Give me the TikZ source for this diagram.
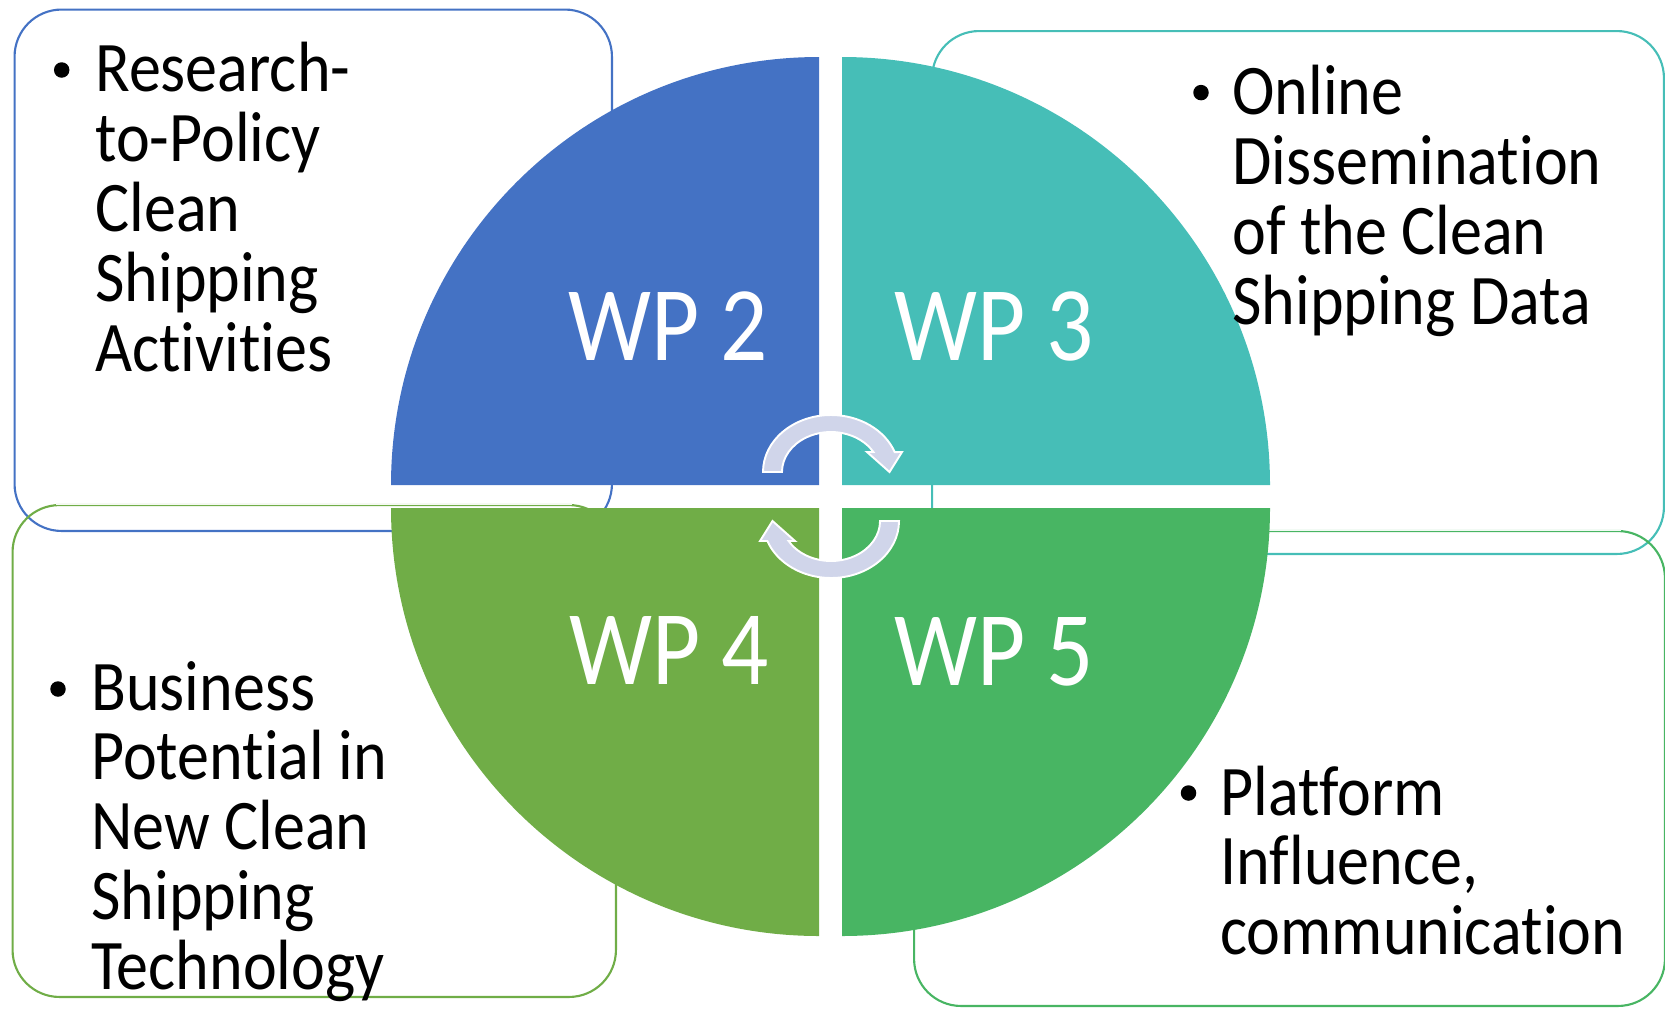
\documentclass[tikz,border=0pt]{standalone}
\usepackage{fontspec}
\newfontfamily\bodyfont[FakeStretch=0.9,Ligatures={NoCommon,NoContextual}]{Carlito}
\newfontfamily\wpfont[FakeStretch=0.88,Ligatures={NoCommon,NoContextual}]{Carlito}
\newcommand\linestack[1]{\vtop{\baselineskip=39.8pt\lineskiplimit=-100pt\lineskip=0pt\halign{##\hfil\cr#1\crcr}}}
\newcommand\nolig{\kern0pt }
\definecolor{wpblue}{HTML}{4472C4}
\definecolor{wpteal}{HTML}{46BEB7}
\definecolor{wpolive}{HTML}{70AD47}
\definecolor{wpgreen}{HTML}{48B563}
\definecolor{arrowfill}{HTML}{D0D5EA}
\tikzset{
  boxshape/.style={draw=#1, line width=1.2pt, rounded corners=0.94cm, rectangle, inner sep=0pt},
  fainttop/.style={draw=#1!7, line width=1.4pt},
  bodytext/.style={anchor=base west, inner sep=0pt, font=\bodyfont\fontsize{40.5}{39.8}\selectfont},
  wptext/.style={anchor=base west, inner sep=0pt, text=white, font=\wpfont\fontsize{60.3}{60}\selectfont},
  bulletdot/.style={circle, fill=black, inner sep=0pt, minimum size=0.31cm},
  cyc/.style={fill=arrowfill, draw=white, line width=1.1pt, line join=miter}
}
\begin{document}
\begin{tikzpicture}[x=0.02cm,y=-0.02cm]
\useasboundingbox (0,0) rectangle (1665,1008);
% outer boxes
\node[boxshape=wpblue, minimum width=11.95cm, minimum height=10.43cm] (boxA) at (313.25,270.25) {};
\node[boxshape=wpteal, minimum width=14.64cm, minimum height=10.46cm] (boxB) at (1298,292.5) {};
\node[boxshape=wpolive, minimum width=12.07cm, minimum height=9.84cm] (boxC) at (314.25,751) {};
\node[boxshape=wpgreen, minimum width=15.02cm, minimum height=9.5cm] (boxD) at (1289.5,768.5) {};
\draw[fainttop=wpolive] ([xshift=0.9cm]boxC.north west) -- ([xshift=-0.9cm]boxC.north east);
\draw[fainttop=wpgreen] ([xshift=0.9cm]boxD.north west) -- ([xshift=-0.9cm]boxD.north east);
% quadrants
\fill[wpblue] (819,485) -- (391,485) arc[start angle=180,end angle=270,radius=428] -- cycle;
\fill[wpteal] (842,485) -- (842,57) arc[start angle=270,end angle=360,radius=428] -- cycle;
\fill[wpolive] (819,508) -- (391,508) arc[start angle=180,end angle=90,radius=428] -- cycle;
\fill[wpgreen] (842,508) -- (1270,508) arc[start angle=0,end angle=90,radius=428] -- cycle;
% WP labels
\node[wptext] (wp2) at (568,360) {WP 2};
\node[wptext] (wp3) at (894,360) {WP 3};
\node[wptext] (wp4) at (569,684) {WP 4};
\node[wptext] (wp5) at (894,685) {WP 5};
% circular arrows
\path[cyc] (763,472) arc[start angle=180,end angle=339.5,x radius=68,y radius=57] -- (902,452) -- (889.5,472) -- (867,452) -- (873.4,452) arc[start angle=330,end angle=180,x radius=49,y radius=40] -- cycle;
\begin{scope}[rotate around={180:(831,496.5)}]
\path[cyc] (763,472) arc[start angle=180,end angle=339.5,x radius=68,y radius=57] -- (902,452) -- (889.5,472) -- (867,452) -- (873.4,452) arc[start angle=330,end angle=180,x radius=49,y radius=40] -- cycle;
\end{scope}
% bullet texts
\node[bulletdot] (bA) at (61.7,70) {};
\node[bodytext] (tA) at (95,91.7) {\linestack{Research-\cr to-Policy\cr Clean\cr Shipping\cr Act\nolig ivit\nolig ies}};
\node[bulletdot] (bB) at (1201,92.6) {};
\node[bodytext] (tB) at (1232,114.7) {\linestack{Online\cr Disseminat\nolig ion\cr of the Clean\cr Shipping Data}};
\node[bulletdot] (bC) at (58,689) {};
\node[bodytext] (tC) at (91,710) {\linestack{Business\cr Potent\nolig ial in\cr New Clean\cr Shipping\cr Technology}};
\node[bulletdot] (bD) at (1188.5,793) {};
\node[bodytext] (tD) at (1220,815) {\linestack{Platform\cr Inf\nolig luence,\cr communicat\nolig ion}};
\end{tikzpicture}
\end{document}
